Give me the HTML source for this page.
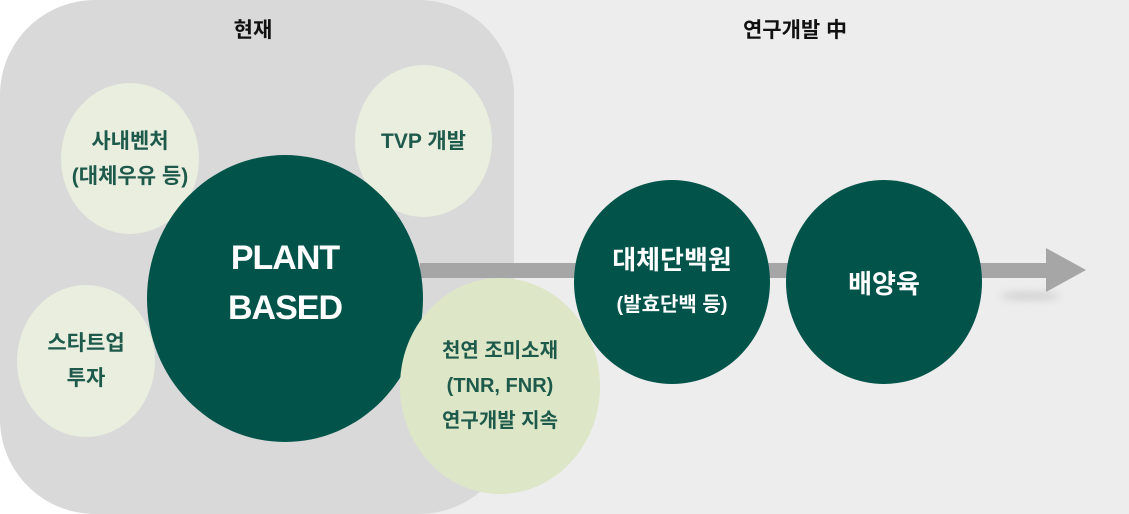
<!DOCTYPE html>
<html><head><meta charset="utf-8"><style>
body{margin:0;width:1129px;height:514px;overflow:hidden;background:#fff;font-family:"Liberation Sans","Noto Sans CJK KR",sans-serif;}
.a{position:absolute}
.c{position:absolute;border-radius:50%;display:flex;align-items:center;justify-content:center;text-align:center;font-weight:bold;}
.l{background:#e9eedf;color:#1d5a4b;font-size:21px;line-height:35px}
.d{background:#02544a;color:#fff}
</style></head><body>
<div class="a" style="left:300px;top:0;width:829px;height:514px;background:#ededed"></div>
<div class="a" style="left:0;top:0;width:514px;height:514px;background:#d9d9d9;border-radius:95px"></div>
<div class="a" style="left:420px;top:263px;width:630px;height:15px;background:#a6a6a6"></div>
<div class="a" style="left:1000px;top:292px;width:60px;height:8px;background:#d0d0d0;filter:blur(4px);border-radius:50%"></div>
<svg class="a" style="left:1046px;top:248px" width="42" height="44"><polygon points="0,0 40,22 0,44" fill="#a6a6a6"/></svg>
<div class="a" style="left:203px;top:14px;width:100px;text-align:center;font-weight:bold;font-size:21px;color:#111">현재</div>
<div class="a" style="left:715px;top:14px;width:160px;text-align:center;font-weight:bold;font-size:21px;color:#111">연구개발 中</div>
<div class="c l" style="left:61px;top:83px;width:138px;height:151px"><div>사내벤처<br>(대체우유 등)</div></div>
<div class="c l" style="left:355px;top:65px;width:137px;height:152px"><div>TVP 개발</div></div>
<div class="c l" style="left:17px;top:285px;width:138px;height:152px"><div>스타트업<br>투자</div></div>
<div class="c d" style="left:147px;top:155px;width:276px;height:287px;font-size:34px;line-height:50px;letter-spacing:-1px"><div style="margin-top:-32px">PLANT<br>BASED</div></div>
<div class="c l" style="left:400px;top:278px;width:200px;height:216px;background:#dde6c6;font-size:20px;line-height:35px"><div>천연 조미소재<br>(TNR, FNR)<br>연구개발 지속</div></div>
<div class="c d" style="left:574px;top:180px;width:196px;height:204px;font-size:26px;line-height:42px"><div>대체단백원<br><span style="font-size:20px">(발효단백 등)</span></div></div>
<div class="c d" style="left:786px;top:180px;width:196px;height:204px;font-size:26px"><div>배양육</div></div>
</body></html>
